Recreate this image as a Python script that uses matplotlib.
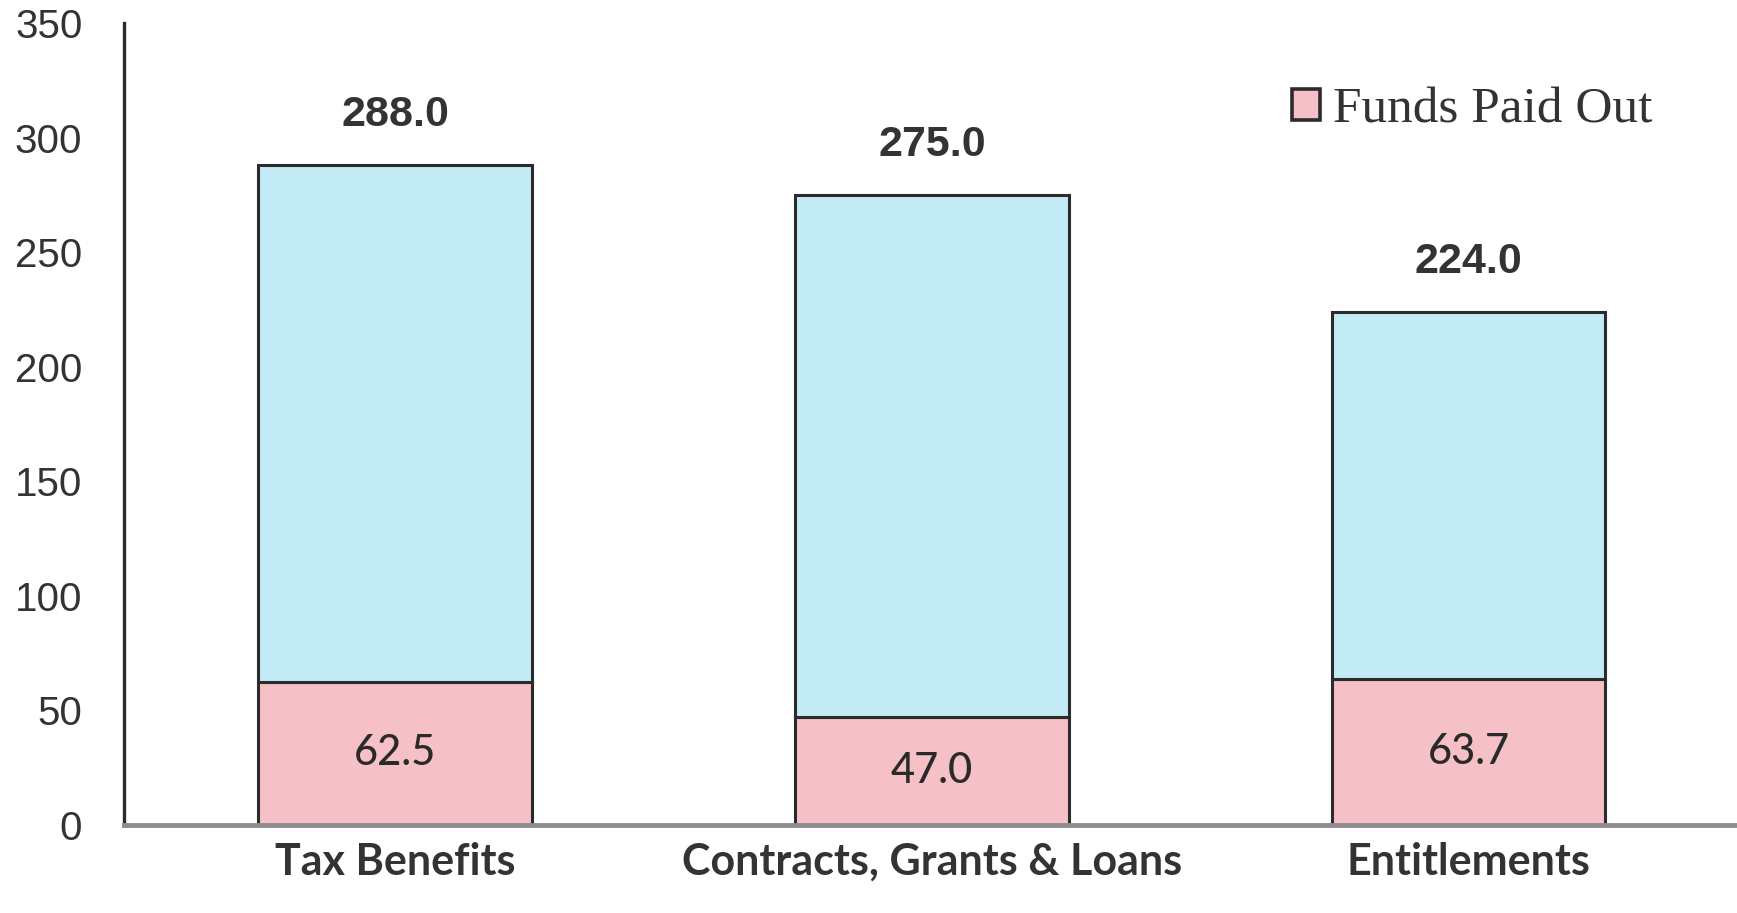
import matplotlib
matplotlib.use("Agg")
import matplotlib.pyplot as plt
from matplotlib.patches import Patch

categories = ["Tax Benefits", "Contracts, Grants & Loans", "Entitlements"]
totals = [288.0, 275.0, 224.0]
paid_out = [62.5, 47.0, 63.7]
yticks = [0, 50, 100, 150, 200, 250, 300, 350]

blue = "#c3ebf5"
pink = "#f5c1c7"
edge = "#2b2b2b"
txt = "#333333"

fig = plt.figure(figsize=(17.37, 9.13), dpi=100)
ax = fig.add_axes([0.0714, 0.0964, 0.9286, 0.878])

x = list(range(len(categories)))
remaining = [t - p for t, p in zip(totals, paid_out)]
ax.bar(x, paid_out, width=0.51, color=pink, edgecolor=edge, linewidth=2.2, zorder=3,
       label="Funds Paid Out")
ax.bar(x, remaining, bottom=paid_out, width=0.51, color=blue, edgecolor=edge,
       linewidth=2.2, zorder=3)

for xi, t, p in zip(x, totals, paid_out):
    ax.annotate(f"{t:.1f}", (xi, t), xytext=(0, 50), textcoords="offset pixels",
                ha="center", va="center", fontsize=31, fontweight="bold",
                family="Liberation Sans", color=txt)
    ax.text(xi, p / 2, f"{p:.1f}", ha="center", va="center", fontsize=30,
            family="Lato", fontweight="medium", color="#2a2a2a", zorder=4)

ax.set_xlim(-0.505, 2.5)
ax.set_ylim(0, 350)
ax.set_yticks(yticks)
ax.set_yticklabels([str(v) for v in yticks], fontsize=29, family="Liberation Sans",
                   color=txt)
ax.tick_params(axis="y", length=0, pad=30)
ax.set_xticks(x)
ax.set_xticklabels(categories, fontsize=31, family="Lato", fontweight="bold", color=txt)
ax.tick_params(axis="x", length=0, pad=12)

for s in ["top", "right", "bottom"]:
    ax.spines[s].set_visible(False)
ax.spines["left"].set_color(edge)
ax.spines["left"].set_linewidth(2.4)
ax.axhline(0, color="#8f8b92", linewidth=3.5, zorder=4, clip_on=False)

handles = [Patch(facecolor=pink, edgecolor=edge, linewidth=2.6, label="Funds Paid Out")]
leg = ax.legend(handles=handles, loc="upper right", bbox_to_anchor=(0.976, 0.978),
                frameon=False, prop={"family": "Liberation Serif", "size": 37},
                handlelength=0.55, handleheight=0.55, handletextpad=0.25)
for t in leg.get_texts():
    t.set_color(txt)

fig.savefig("out.png", dpi=100)
